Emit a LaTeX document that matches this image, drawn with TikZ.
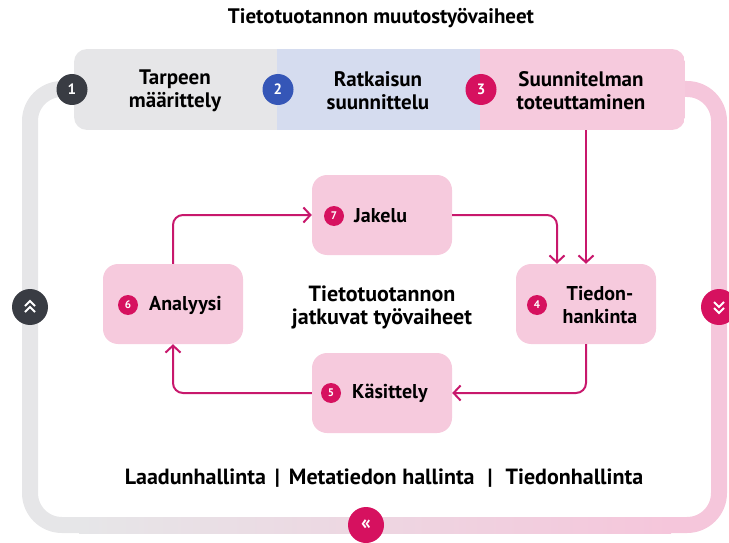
\documentclass[tikz,border=0pt]{standalone}
\usepackage{fontspec}
\setmainfont{PT Sans}
\usetikzlibrary{arrows.meta}
\definecolor{mag}{HTML}{D6115F}
\definecolor{arr}{HTML}{C8186C}
\definecolor{dk}{HTML}{393C43}
\definecolor{bl}{HTML}{3556B7}
\definecolor{lgray}{HTML}{E6E6E8}
\definecolor{lblue}{HTML}{D5DCEF}
\definecolor{lpink}{HTML}{F6CADD}
\definecolor{bandpink}{HTML}{F5C6DB}
\begin{document}
\begin{tikzpicture}[x=1pt,y=-1pt,
  box/.style={fill=lpink, rounded corners=15pt, minimum width=140pt, minimum height=80pt},
  num/.style={circle, fill=mag, text=white, inner sep=0pt, minimum size=20pt, font=\bfseries\fontsize{11}{11}\selectfont},
  bignum/.style={circle, inner sep=0pt, minimum size=31pt, text=white, font=\bfseries\fontsize{15}{15}\selectfont},
  sidec/.style={circle, inner sep=0pt, minimum size=36pt, text=white, font=\bfseries\fontsize{20}{20}\selectfont},
  lab/.style={font=\bfseries\fontsize{21}{23}\selectfont, align=center, inner sep=0pt},
  blab/.style={font=\bfseries\fontsize{20}{23}\selectfont, align=center, inner sep=0pt},
  flow/.style={draw=arr, line width=2pt, rounded corners=10pt, -{Straight Barb[length=7pt,width=15pt]}},
  band/.style={line width=16pt},
  chev/.style={white, line width=2pt}]
\useasboundingbox (0,0) rectangle (729,543);
% outer loop
\draw[band, lgray, rounded corners=32pt] (80,525) -- (30,525) -- (30,89) -- (110,89);
\draw[band, bandpink, rounded corners=32pt] (670,525) -- (719,525) -- (719,89) -- (640,89);
\shade[left color=lgray, right color=bandpink] (79,517) rectangle (671,533);
% top bar
\begin{scope}
\clip[rounded corners=13pt] (74,49) rectangle (685,130);
\fill[lgray] (74,49) rectangle (277,130);
\fill[lblue] (277,49) rectangle (480,130);
\fill[lpink] (480,49) rectangle (685,130);
\end{scope}
\node[bignum, fill=dk] (c1) at (72,89.5) {1};
\node[bignum, fill=bl] (c2) at (278,89.5) {2};
\node[bignum, fill=mag] (c3) at (481,89.5) {3};
\node[lab] (t1) at (175,91) {Tarpeen\\määrittely};
\node[lab] (t2) at (378,91) {Ratkaisun\\suunnittelu};
\node[lab] (t3) at (581,91) {Suunnitelman\\toteuttaminen};
\node[lab] (title) at (381,18) {Tietotuotannon muutostyövaiheet};
% inner boxes
\node[box] (jak) at (382,215) {};
\node[box] (ana) at (173,304) {};
\node[box] (kas) at (382,393) {};
\node[box] (tie) at (586,304) {};
\node[num] (n7) at (334,216) {7};
\node[blab, anchor=west] (l7) at (354,216) {Jakelu};
\node[num] (n6) at (128,305) {6};
\node[blab, anchor=west] (l6) at (149,305) {Analyysi};
\node[num] (n5) at (331,393) {5};
\node[blab, anchor=west] (l5) at (352,393) {Käsittely};
\node[num] (n4) at (537,305) {4};
\node[blab] (l4) at (600,305) {Tiedon-\\hankinta};
\node[lab, font=\bfseries\fontsize{22}{23}\selectfont] (mid) at (382,307) {Tietotuotannon\\jatkuvat työvaiheet};
\node[lab, font=\bfseries\fontsize{22}{23}\selectfont] (bot) at (384,478) {Laadunhallinta\hspace{9pt}|\hspace{9pt}Metatiedon hallinta\hspace{13pt}|\hspace{13pt}Tiedonhallinta};
% flows
\coordinate (s3) at (586,130);
\draw[flow] (ana.north) |- (jak.west);
\draw[flow] (jak.east) -| ([xshift=-29pt]tie.north);
\draw[flow] (s3) -- (tie.north);
\draw[flow] (tie.south) |- (kas.east);
\draw[flow] (kas.west) -| (ana.south);
% side circles
\node[sidec, fill=dk] (cl) at (30,307) {};
\draw[chev] ([shift={(-5,-1)}]cl.center) -- ([shift={(0,-6)}]cl.center) -- ([shift={(5,-1)}]cl.center);
\draw[chev] ([shift={(-5,5)}]cl.center) -- ([shift={(0,0)}]cl.center) -- ([shift={(5,5)}]cl.center);
\node[sidec, fill=mag] (cr) at (719,307) {};
\draw[chev] ([shift={(-5,-5)}]cr.center) -- ([shift={(0,0)}]cr.center) -- ([shift={(5,-5)}]cr.center);
\draw[chev] ([shift={(-5,1)}]cr.center) -- ([shift={(0,6)}]cr.center) -- ([shift={(5,1)}]cr.center);
\node[sidec, fill=mag] (cb) at (366,525) {«};
\end{tikzpicture}
\end{document}
